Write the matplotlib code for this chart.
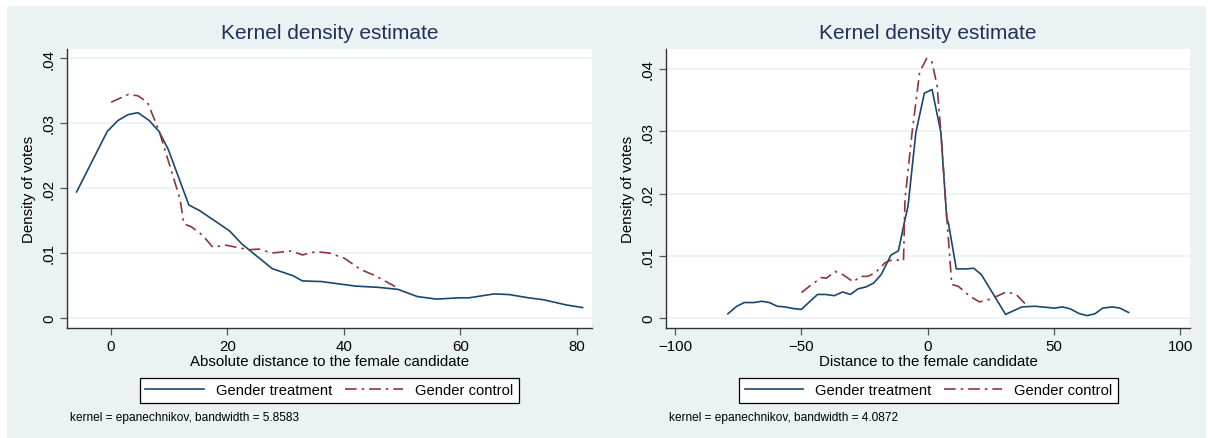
import numpy as np
import matplotlib.pyplot as plt
from matplotlib.patches import Rectangle

plt.rcParams['font.family'] = ['Liberation Sans', 'DejaVu Sans']

# absolute distance: treatment / control density curves
abs_treat_x = [-5.85, -0.6, 1.25, 3.0, 4.67, 6.6, 8.3, 9.9, 13.4, 15.3, 20.4, 22.5,
               27.7, 31.3, 32.9, 36.2, 39.5, 42.1, 46.1, 49.3, 52.6, 55.9, 59.8,
               61.5, 65.8, 68.4, 71.7, 74.3, 78.2, 81.0]
abs_treat_y = [0.0194, 0.0287, 0.0304, 0.0313, 0.0316, 0.0304, 0.0287, 0.0259, 0.0174,
               0.0165, 0.0134, 0.0114, 0.0076, 0.0065, 0.0057, 0.0056, 0.0052, 0.0049,
               0.0047, 0.0044, 0.0033, 0.0029, 0.0031, 0.0031, 0.0037, 0.0036, 0.0031,
               0.0028, 0.0020, 0.0016]
abs_ctrl_x = [0.07, 3.0, 4.67, 6.3, 8.3, 11.9, 12.55, 13.9, 15.8, 17.5, 19.8, 23.7,
              25.4, 27.7, 31.0, 32.9, 35.2, 37.5, 40.1, 42.8, 45.4, 49.3]
abs_ctrl_y = [0.0332, 0.0344, 0.0342, 0.0332, 0.0288, 0.0183, 0.0145, 0.0140, 0.0127,
              0.0109, 0.0112, 0.0105, 0.0106, 0.0100, 0.0103, 0.0097, 0.0102, 0.0100,
              0.0092, 0.0075, 0.0065, 0.0046]

# signed distance
dist_treat_x = [-79.1, -75.6, -72.6, -68.8, -65.7, -62.7, -59.6, -56.6, -52.7, -50.0,
                -46.6, -43.6, -40.5, -37.0, -33.7, -30.6, -27.6, -24.5, -21.5, -18.4,
                -14.6, -11.6, -9.3, -7.8, -4.7, -1.35, 1.7, 5.2, 7.5, 8.3, 11.3, 15.1,
                18.2, 21.2, 30.8, 37.3, 42.5, 50.2, 53.2, 56.3, 60.1, 63.2, 66.2, 69.2,
                73.1, 76.1, 79.5]
dist_treat_y = [0.0007, 0.0019, 0.0025, 0.0025, 0.0027, 0.0025, 0.0019, 0.0018, 0.0015,
                0.0014, 0.0027, 0.0038, 0.0038, 0.0036, 0.0042, 0.0038, 0.0047, 0.0050,
                0.0056, 0.0070, 0.0101, 0.0108, 0.0153, 0.0180, 0.0298, 0.0361, 0.0367,
                0.0298, 0.0161, 0.0150, 0.0079, 0.0079, 0.0080, 0.0070, 0.0006, 0.0018,
                0.0019, 0.0016, 0.0018, 0.0015, 0.0007, 0.0004, 0.0007, 0.0016, 0.0018,
                0.0016, 0.0009]
dist_ctrl_x = [-50.0, -45.9, -42.1, -40.1, -36.7, -33.7, -29.4, -26.8, -23.7, -20.7,
               -16.9, -13.9, -9.6, -9.0, -6.2, -3.2, -0.4, 1.7, 3.7, 5.2, 7.5, 8.0,
               9.5, 12.1, 16.7, 20.5, 24.3, 27.3, 31.1, 35.0, 39.5]
dist_ctrl_y = [0.0041, 0.0054, 0.0065, 0.0064, 0.0075, 0.0070, 0.0058, 0.0067, 0.0067,
               0.0073, 0.0089, 0.0094, 0.0092, 0.0191, 0.0298, 0.0395, 0.0417, 0.0411,
               0.0373, 0.0298, 0.0164, 0.0137, 0.0054, 0.0051, 0.0035, 0.0026, 0.0030,
               0.0035, 0.0042, 0.0038, 0.0019]

yticks = [0, 0.01, 0.02, 0.03, 0.04]
ytick_labels = ['0', '.01', '.02', '.03', '.04']

navy = '#1a476f'
maroon = '#90353b'
bg = '#eaf2f3'

W, H = 1208, 439
fig = plt.figure(figsize=(W / 100, H / 100), dpi=100)
fig.patches.append(Rectangle((7.3 / W, 0), (1205.7 - 7.3) / W, (H - 7.3) / H,
                             transform=fig.transFigure, facecolor=bg,
                             edgecolor='none', zorder=-5))


def panel(x0, x1, xlim, ylim, xticks, xlabel, tx, ty, cx, cy, note, leg_x0, leg_x1):
    ax = fig.add_axes([x0 / W, (H - 328.7) / H, (x1 - x0) / W, (328.7 - 50) / H])
    ax.set_zorder(2)
    ax.set_facecolor('white')
    ax.plot(tx, ty, color=navy, lw=1.2, label='Gender treatment')
    ax.plot(cx, cy, color=maroon, lw=1.2, dashes=[7, 3, 1.5, 3],
            label='Gender control')
    ax.set_xlim(xlim)
    ax.set_ylim(ylim)
    ax.set_xticks(xticks)
    ax.set_xticklabels([str(v).replace('-', '\u2212') for v in xticks])
    ax.set_yticks(yticks)
    ax.set_yticklabels(ytick_labels, rotation=90, va='center')
    ax.grid(axis='y', color=bg, lw=1.2)
    ax.set_axisbelow(True)
    for s in ['top', 'right']:
        ax.spines[s].set_visible(False)
    for s in ['left', 'bottom']:
        ax.spines[s].set_color('#333333')
        ax.spines[s].set_linewidth(1.0)
    ax.tick_params(direction='out', length=5, width=0.9, color='#555555',
                   labelsize=10.8, pad=3)
    ax.set_xlabel(xlabel, fontsize=10.8, labelpad=1)
    ax.set_ylabel('Density of votes', fontsize=10.8, labelpad=4)
    ax.set_title('Kernel density estimate', fontsize=15, color='#22305a', pad=8)
    ax.legend(loc='center', ncol=2, mode='expand',
              bbox_to_anchor=(leg_x0 / W, (H - 405) / H, (leg_x1 - leg_x0) / W, 27.3 / H),
              bbox_transform=fig.transFigure, fontsize=10.6, handlelength=4.0,
              frameon=True, fancybox=False, edgecolor='black', framealpha=1,
              borderpad=0.35, columnspacing=1.5)
    ax.get_legend().get_frame().set_linewidth(0.9)
    fig.text((x0 + 3) / W, (H - 418) / H, note, fontsize=8.6, va='center', ha='left')
    return ax


panel(67, 592, (-7.5, 82.6), (-0.0015, 0.0414), [0, 20, 40, 60, 80],
      'Absolute distance to the female candidate',
      abs_treat_x, abs_treat_y, abs_ctrl_x, abs_ctrl_y,
      'kernel = epanechnikov, bandwidth = 5.8583', 132.8, 526)

panel(666, 1190, (-103.6, 103.8), (-0.00154, 0.0432), [-100, -50, 0, 50, 100],
      'Distance to the female candidate',
      dist_treat_x, dist_treat_y, dist_ctrl_x, dist_ctrl_y,
      'kernel = epanechnikov, bandwidth = 4.0872', 732, 1125)

fig.savefig('out.png', dpi=100)
